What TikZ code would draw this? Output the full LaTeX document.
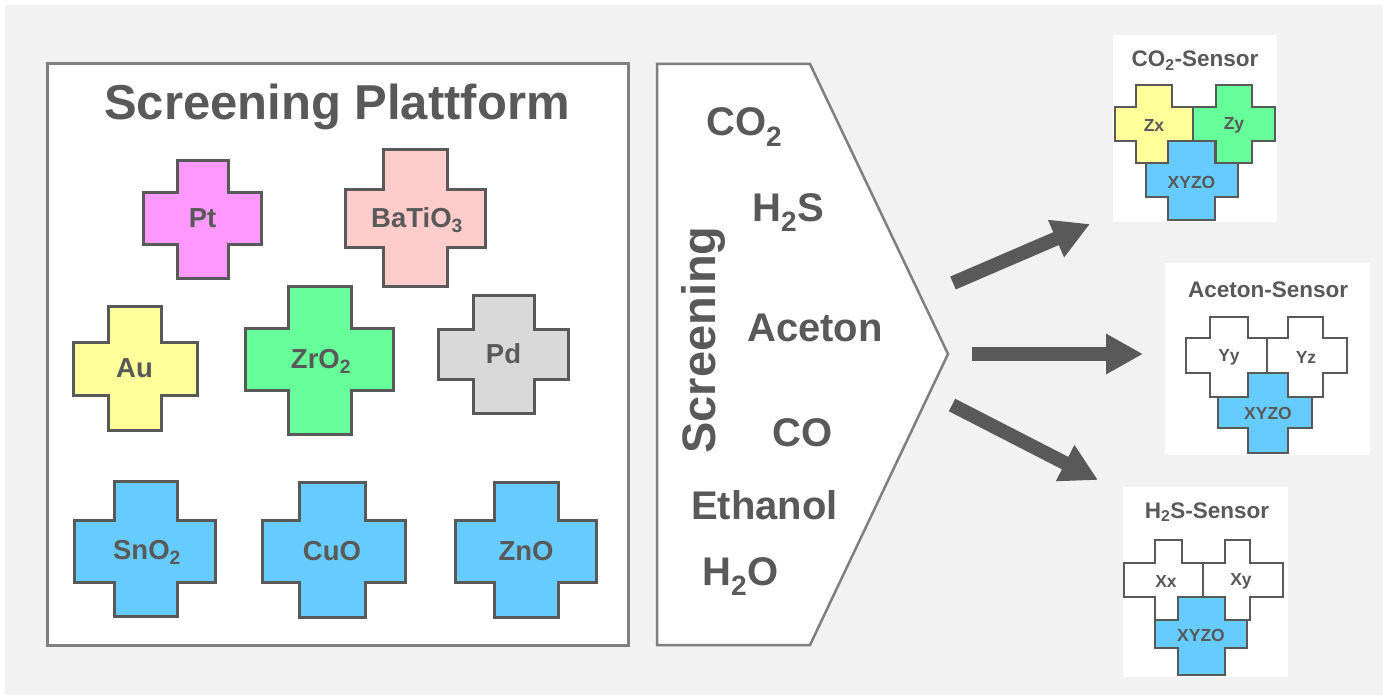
\documentclass[tikz,border=0pt]{standalone}
\usepackage{fontspec}
\setmainfont{Liberation Sans}
\usetikzlibrary{arrows.meta}
\definecolor{bg}{HTML}{F2F2F2}
\definecolor{frame}{HTML}{7F7F7F}
\definecolor{ink}{HTML}{595959}
\definecolor{cpt}{HTML}{FF99FF}
\definecolor{cba}{HTML}{FFCCCC}
\definecolor{cau}{HTML}{FFFF99}
\definecolor{czr}{HTML}{66FF99}
\definecolor{cpd}{HTML}{D9D9D9}
\definecolor{cblue}{HTML}{66CCFF}
% #1 style, #2..#5 x: outer left, inner left, inner right, outer right; #6..#9 y: top, inner top, inner bottom, bottom
\newcommand\mycross[9]{\draw[#1] (#3,#6) -- (#4,#6) -- (#4,#7) -- (#5,#7) -- (#5,#8) -- (#4,#8) -- (#4,#9) -- (#3,#9) -- (#3,#8) -- (#2,#8) -- (#2,#7) -- (#3,#7) -- cycle;}
\tikzset{
  bigcross/.style={draw=ink, line width=3pt, line join=miter},
  smallcross/.style={draw=ink, line width=2.4pt, line join=miter},
  lbl/.style={text=ink, font=\fontsize{27.5}{30}\selectfont\bfseries, inner sep=0pt},
  slbl/.style={text=ink, font=\fontsize{17.5}{19}\selectfont\bfseries, inner sep=0pt},
  gas/.style={text=ink, font=\fontsize{40}{44}\selectfont\bfseries, inner sep=0pt, anchor=base west},
  stitle/.style={text=ink, font=\fontsize{22.5}{24}\selectfont\bfseries, inner sep=0pt, anchor=base},
  panel/.style={draw=frame, line width=3pt, fill=white},
  sbox/.style={fill=white, draw=none},
  flow/.style={draw=ink, line width=14pt, -{Triangle[width=38pt,length=37pt]}}
}
\begin{document}
\begin{tikzpicture}[x=1pt,y=-1pt]
\useasboundingbox (0,0) rectangle (1383,695);
\fill[bg] (5,5) rectangle (1383,695);

% left panel
\node[panel, minimum width=581pt, minimum height=581pt, inner sep=0pt] (plat) at (337.5,354.5) {};
\node[text=ink, font=\fontsize{49}{52}\selectfont\bfseries, inner sep=0pt, anchor=base] (title) at (337,120) {Screening Plattform};

\mycross{bigcross, fill=cpt}{143}{177}{228}{261}{161}{193}{244}{278}
\node[lbl] (pt) at (202.5,218.5) {Pt};
\mycross{bigcross, fill=cba}{345}{383}{447}{485}{150}{190}{247}{286}
\node[lbl] (ba) at (417,220) {BaTiO\textsubscript{3}};
\mycross{bigcross, fill=cau}{73}{108}{161}{197}{306}{342}{395}{430}
\node[lbl] (au) at (134.5,368.5) {Au};
\mycross{bigcross, fill=czr}{245}{288}{351}{393}{286}{328}{390}{434}
\node[lbl] (zr) at (321,361) {ZrO\textsubscript{2}};
\mycross{bigcross, fill=cpd}{438}{473}{534}{568}{295}{329}{379}{413}
\node[lbl] (pd) at (503.5,354) {Pd};
\mycross{bigcross, fill=cblue}{74}{114}{177}{215}{481}{520}{582}{616}
\node[lbl] (sn) at (147,552) {SnO\textsubscript{2}};
\mycross{bigcross, fill=cblue}{262}{299}{365}{405}{482}{520}{582}{617}
\node[lbl] (cu) at (332,551) {CuO};
\mycross{bigcross, fill=cblue}{455}{494}{558}{596}{482}{520}{582}{617}
\node[lbl] (zn) at (526,551) {ZnO};

% middle screening arrow shape
\coordinate (m1) at (657,64);
\coordinate (m2) at (810,64);
\coordinate (tip) at (948,354);
\coordinate (m4) at (810,645);
\coordinate (m5) at (657,645);
\draw[panel, line width=2.5pt, line join=miter] (m1) -- (m2) -- (tip) -- (m4) -- (m5) -- cycle;
\node[text=ink, font=\fontsize{47}{50}\selectfont\bfseries, inner sep=0pt, rotate=90, anchor=base] (scr) at (715,340) {Screening};
\node[gas] (g1) at (706,136) {CO\textsubscript{2}};
\node[gas] (g2) at (752,221) {H\textsubscript{2}S};
\node[gas] (g3) at (747,341) {Aceton};
\node[gas] (g4) at (772,446) {CO};
\node[gas] (g5) at (691,519) {Ethanol};
\node[gas] (g6) at (702,585) {H\textsubscript{2}O};

% arrows
\coordinate (a1s) at (953,283); \coordinate (a1e) at (1090,224);
\coordinate (a2s) at (972,354); \coordinate (a2e) at (1143,354);
\coordinate (a3s) at (952,405); \coordinate (a3e) at (1098,480);
\draw[flow] (a1s) -- (a1e);
\draw[flow] (a2s) -- (a2e);
\draw[flow] (a3s) -- (a3e);

% CO2 sensor
\node[sbox, minimum width=164pt, minimum height=187pt, inner sep=0pt] (s1) at (1195,128.5) {};
\node[stitle] (t1) at (1195,67) {CO\textsubscript{2}-Sensor};
\mycross{smallcross, fill=cau}{1115}{1136}{1172}{1193}{85}{107}{141}{163}
\node[slbl] (zx) at (1154,125) {Zx};
\mycross{smallcross, fill=czr}{1193}{1216}{1252}{1275}{85}{107}{141}{163}
\node[slbl] (zy) at (1234,125) {Zy};
\mycross{smallcross, fill=cblue}{1146}{1168}{1215}{1238}{141}{163}{197}{220}
\node[slbl] (x1) at (1191.5,182) {XYZO};

% Aceton sensor
\node[sbox, minimum width=205pt, minimum height=192pt, inner sep=0pt] (s2) at (1267.5,359) {};
\node[stitle] (t2) at (1268,297) {Aceton-Sensor};
\mycross{smallcross, fill=white}{1186}{1210}{1248}{1267}{317}{338}{373}{397}
\node[slbl] (yy) at (1229,357) {Yy};
\mycross{smallcross, fill=white}{1267}{1288}{1323}{1347}{317}{338}{373}{397}
\node[slbl] (yz) at (1306,357) {Yz};
\mycross{smallcross, fill=cblue}{1218}{1248}{1288}{1312}{373}{397}{428}{453}
\node[slbl] (x2) at (1268,413) {XYZO};

% H2S sensor
\node[sbox, minimum width=165pt, minimum height=190pt, inner sep=0pt] (s3) at (1205.5,582) {};
\node[stitle] (t3) at (1207,518) {H\textsubscript{2}S-Sensor};
\mycross{smallcross, fill=white}{1124}{1155}{1182}{1203}{540}{563}{597}{620}
\node[slbl] (xx) at (1166,581) {Xx};
\mycross{smallcross, fill=white}{1203}{1225}{1250}{1283}{540}{563}{597}{620}
\node[slbl] (xy) at (1241,581) {Xy};
\mycross{smallcross, fill=cblue}{1155}{1178}{1225}{1247}{597}{620}{648}{675}
\node[slbl] (x3) at (1201,635) {XYZO};
\end{tikzpicture}
\end{document}
